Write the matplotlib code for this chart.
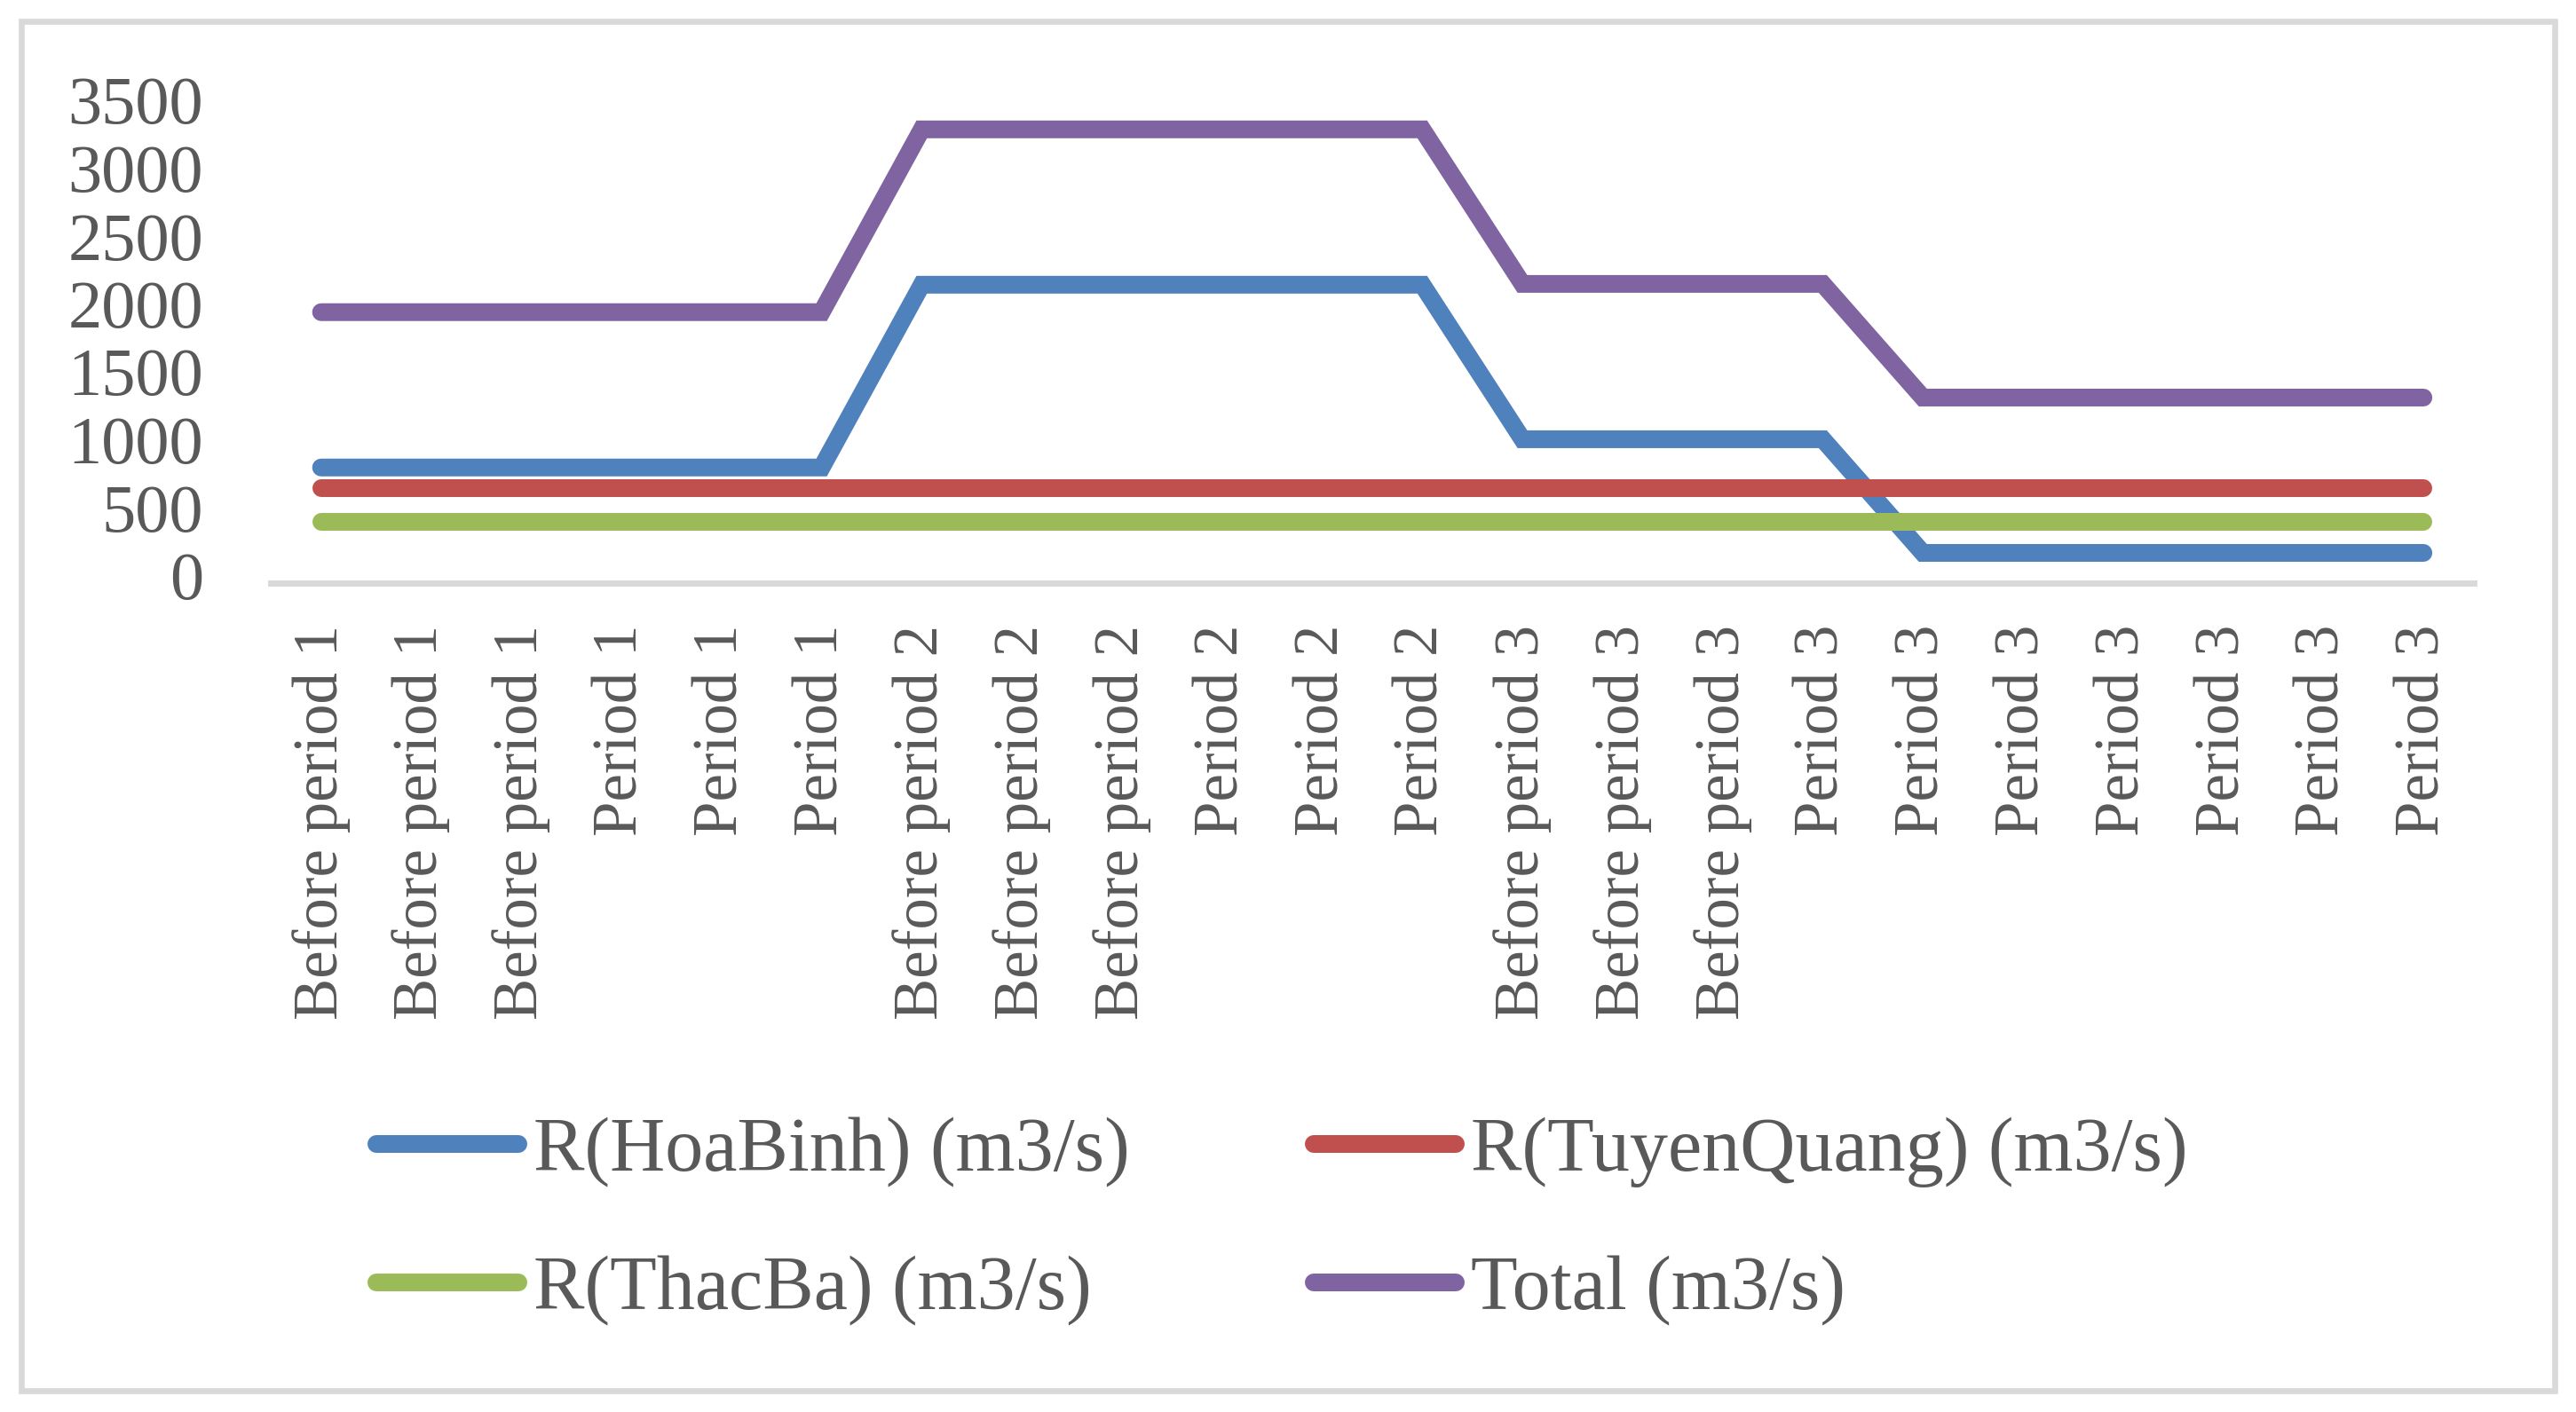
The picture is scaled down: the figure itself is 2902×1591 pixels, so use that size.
import matplotlib
matplotlib.use("Agg")
import matplotlib.pyplot as plt
from matplotlib.patches import Rectangle

categories = (["Before period 1"] * 3 + ["Period 1"] * 3 +
              ["Before period 2"] * 3 + ["Period 2"] * 3 +
              ["Before period 3"] * 3 + ["Period 3"] * 7)

hoabinh = [848, 848, 848, 848, 848, 848,
           2194, 2194, 2194, 2194, 2194, 2194,
           1056, 1056, 1056, 1056,
           219, 219, 219, 219, 219, 219]
tuyenquang = [696] * 22
thacba = [448] * 22
total = [1992, 1992, 1992, 1992, 1992, 1992,
         3338, 3338, 3338, 3338, 3338, 3338,
         2200, 2200, 2200, 2200,
         1363, 1363, 1363, 1363, 1363, 1363]

series = [
    ("R(HoaBinh) (m3/s)", hoabinh, "#4F81BD"),
    ("R(TuyenQuang) (m3/s)", tuyenquang, "#C0504D"),
    ("R(ThacBa) (m3/s)", thacba, "#9BBB59"),
    ("Total (m3/s)", total, "#8064A2"),
]
yticks = [0, 500, 1000, 1500, 2000, 2500, 3000, 3500]

TXT = "#595959"
GRID = "#D9D9D9"
W, H = 2902, 1591

plt.rcParams["font.family"] = ["Liberation Serif", "DejaVu Serif"]

fig = plt.figure(figsize=(W / 100, H / 100), dpi=100)
fig.patch.set_facecolor("white")

ax = fig.add_axes([305.3 / W, 1 - 656.5 / H, (2786.5 - 305.3) / W, (656.5 - 121.0) / H])
x = list(range(len(categories)))
lines = {}
for name, vals, col in series:
    ln, = ax.plot(x, vals, color=col, lw=14.4, solid_capstyle="round",
                  solid_joinstyle="miter", label=name)
    lines[name] = ln

ax.set_xlim(-0.5, len(categories) - 0.5)
ax.set_ylim(0, 3500)
ax.set_yticks(yticks)
ax.set_yticklabels([str(v) for v in yticks], va="center")
ax.set_xticks(x)
ax.set_xticklabels(categories, rotation=90)
ax.tick_params(axis="y", length=0, pad=55, labelsize=55, labelcolor=TXT)
ax.tick_params(axis="x", length=0, pad=34, labelsize=51, labelcolor=TXT)
for s in ["top", "left", "right"]:
    ax.spines[s].set_visible(False)
ax.spines["bottom"].set_color(GRID)
ax.spines["bottom"].set_linewidth(5)
ax.set_facecolor("none")

# row-major order in a 2-column legend (matplotlib fills column-wise)
order = ["R(HoaBinh) (m3/s)", "R(ThacBa) (m3/s)", "R(TuyenQuang) (m3/s)", "Total (m3/s)"]
leg = ax.legend([lines[n] for n in order], order,
                loc="upper left", bbox_to_anchor=(424 / W, 1 - 1258.5 / H),
                bbox_transform=fig.transFigure, ncol=2, frameon=False,
                fontsize=62, handlelength=1.86, handletextpad=0.2,
                columnspacing=2.4, labelspacing=0.89, borderpad=0,
                borderaxespad=0)
for t in leg.get_texts():
    t.set_color(TXT)

fig.patches.append(Rectangle((24 / W, 1 - 1567 / H), (2878 - 24) / W, (1567 - 24) / H,
                             transform=fig.transFigure, fill=False,
                             edgecolor=GRID, linewidth=4.8))

fig.savefig("out.png", dpi=100, facecolor="white")
